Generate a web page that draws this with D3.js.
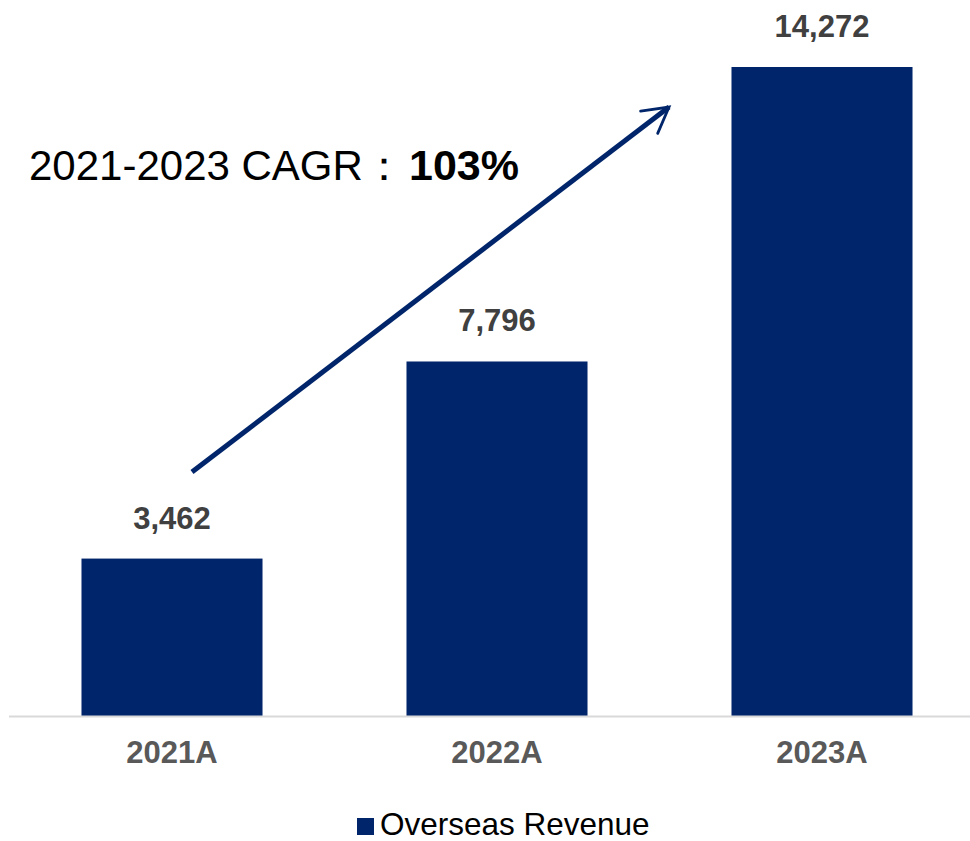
<!DOCTYPE html>
<html lang="en">
<head>
    <meta charset="UTF-8">
    <script src="https://d3js.org/d3.v7.min.js"></script>
    <title>Overseas Revenue</title>
    <style>
        body{
            margin: 0;
            background-color: #ffffff;
        }
        text{
            font-family: Arial, "Liberation Sans", sans-serif;
        }
    </style>
</head>
<body>
    <div id="chart"></div>
</body>
<script>
// data
const years = ["2021A", "2022A", "2023A"];
const revenue = [3462, 7796, 14272];
const seriesName = "Overseas Revenue";
const cagrLabel = "2021-2023 CAGR：";
const cagrValue = "103%";

    const svg = d3.select("#chart").append("svg").attr("width", 970).attr("height", 841);
    const navy = "#00256a";
    const baseY = 716;

    // scales
    const xScale = d3.scaleBand().domain(years).range([9.5, 984.5]).paddingInner(0.443).paddingOuter(0.2215);
    const yScale = d3.scaleLinear().domain([0, d3.max(revenue)]).range([baseY, 67]);

    // bars
    svg.selectAll("rect.bar").data(years).enter().append("rect")
        .attr("class", "bar")
        .attr("x", d => xScale(d))
        .attr("width", xScale.bandwidth())
        .attr("y", (d, i) => yScale(revenue[i]))
        .attr("height", (d, i) => baseY - yScale(revenue[i]))
        .attr("fill", navy);

    // value labels
    svg.selectAll("text.val").data(years).enter().append("text")
        .attr("class", "val")
        .attr("x", d => xScale(d) + xScale.bandwidth() / 2)
        .attr("y", (d, i) => yScale(revenue[i]) - 30)
        .attr("text-anchor", "middle")
        .attr("font-size", 31)
        .attr("font-weight", "bold")
        .attr("fill", "#404040")
        .text((d, i) => d3.format(",")(revenue[i]));

    // x axis
    const xAxis = svg.append("g").attr("transform", `translate(0,${baseY})`)
        .call(d3.axisBottom(xScale).tickSize(0).tickPadding(25));
    xAxis.select(".domain").attr("d", "M9,0.5H970").attr("stroke", "#d9d9d9").attr("stroke-width", 2);
    xAxis.selectAll("text")
        .attr("font-family", "Arial, 'Liberation Sans', sans-serif")
        .attr("font-size", 31)
        .attr("font-weight", "bold")
        .attr("fill", "#595959");

    // growth arrow
    svg.append("defs").append("marker")
        .attr("id", "head")
        .attr("viewBox", "0 0 12 12")
        .attr("refX", 10).attr("refY", 6)
        .attr("markerWidth", 7.5).attr("markerHeight", 7.5)
        .attr("orient", "auto")
        .attr("markerUnits", "strokeWidth")
        .append("path")
        .attr("d", "M2,1.5L10,6L2,10.5")
        .attr("fill", "none")
        .attr("stroke", navy)
        .attr("stroke-width", 0.9)
        .attr("stroke-linecap", "round")
        .attr("stroke-linejoin", "miter");

    svg.append("line")
        .attr("x1", 192).attr("y1", 472)
        .attr("x2", 669).attr("y2", 107)
        .attr("stroke", navy)
        .attr("stroke-width", 5)
        .attr("marker-end", "url(#head)");

    // CAGR annotation
    const cagr = svg.append("text").attr("x", 29).attr("y", 180).attr("font-size", 42).attr("fill", "#000");
    cagr.append("tspan").text(cagrLabel);
    cagr.append("tspan").attr("x", 409).attr("font-weight", "bold").attr("font-size", 43).text(cagrValue);

    // legend
    const legend = svg.append("g").attr("transform", "translate(357,818)");
    legend.append("rect").attr("width", 17).attr("height", 17).attr("fill", navy);
    legend.append("text").attr("x", 23).attr("y", 17).attr("font-size", 31.5).attr("fill", "#000").text(seriesName);
</script>
</html>
